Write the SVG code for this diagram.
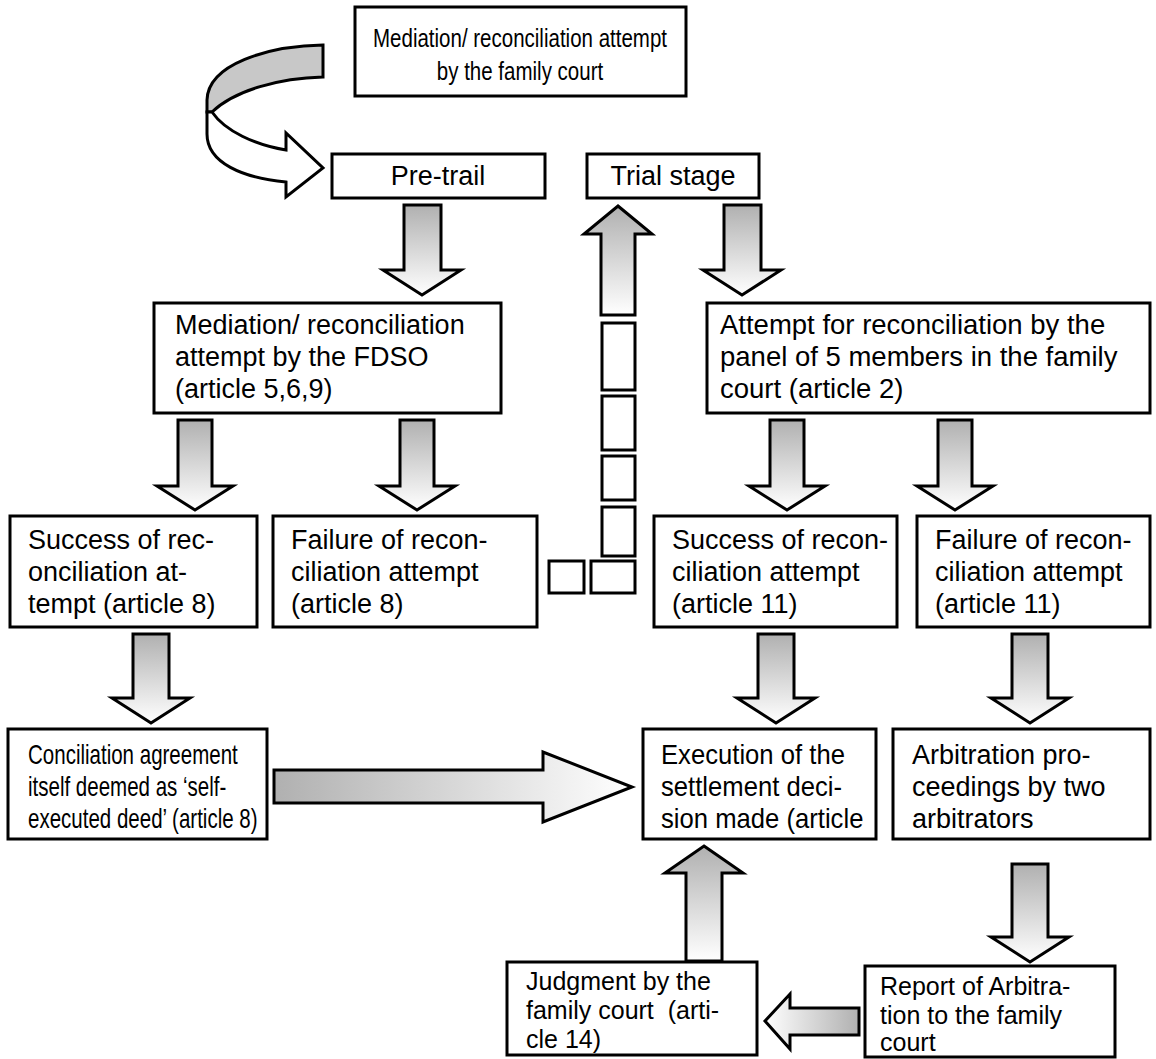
<svg xmlns="http://www.w3.org/2000/svg" width="1156" height="1059" viewBox="0 0 1156 1059">
<style>
.box{fill:#fff;stroke:#000;stroke-width:3}
.arr{stroke:#000;stroke-width:3;stroke-linejoin:miter}
.t{font-family:"Liberation Sans",Arial,sans-serif;font-size:27px;fill:#000}
.c{text-anchor:middle}
</style>
<defs>
<linearGradient id="gv" x1="0" y1="0" x2="0" y2="1"><stop offset="0" stop-color="#b0b0b0"/><stop offset="1" stop-color="#ffffff"/></linearGradient>
<linearGradient id="gr" x1="0" y1="0" x2="1" y2="0"><stop offset="0" stop-color="#b0b0b0"/><stop offset="1" stop-color="#ffffff"/></linearGradient>
<linearGradient id="gl" x1="0" y1="0" x2="1" y2="0"><stop offset="0" stop-color="#ffffff"/><stop offset="1" stop-color="#b0b0b0"/></linearGradient>
</defs>
<rect width="1156" height="1059" fill="#fff"/>

<g id="connectors">
<path class="arr" fill="#c8c8c8" d="M323,45 C268,46 208,64 207,100 L207,112 L212,112 C235,90 280,78 323,77 Z"/>
<path class="arr" fill="#fff" d="M212,112 C225,131 255,145 286,150 L286,133 L323,168 L286,197 L286,182 C243,178 207,163 207,134 L207,112 Z"/>
<polygon class="arr" fill="url(#gv)" points="404,205 441,205 441,270 461,270 422,295 383,270 404,270"/>
<polygon class="arr" fill="url(#gv)" points="724,205 761,205 761,270 781,270 742,295 703,270 724,270"/>
<polygon class="arr" fill="url(#gv)" points="618,206 652,234 635,234 635,315 601,315 601,234 584,234"/>
<rect class="box" x="602" y="323" width="33" height="67"/>
<rect class="box" x="602" y="396" width="33" height="54"/>
<rect class="box" x="602" y="456" width="33" height="44"/>
<rect class="box" x="602" y="507" width="33" height="49"/>
<rect class="box" x="549" y="561" width="35" height="32"/>
<rect class="box" x="591" y="561" width="44" height="32"/>
<polygon class="arr" fill="url(#gv)" points="178,420 212,420 212,486 233,486 195,510 157,486 178,486"/>
<polygon class="arr" fill="url(#gv)" points="400,420 434,420 434,486 455,486 417,510 379,486 400,486"/>
<polygon class="arr" fill="url(#gv)" points="770,420 804,420 804,486 825,486 787,510 749,486 770,486"/>
<polygon class="arr" fill="url(#gv)" points="938,420 972,420 972,486 993,486 955,510 917,486 938,486"/>
<polygon class="arr" fill="url(#gv)" points="133,634 169,634 169,698 190,698 151,723 112,698 133,698"/>
<polygon class="arr" fill="url(#gv)" points="758,634 794,634 794,698 815,698 776,723 737,698 758,698"/>
<polygon class="arr" fill="url(#gv)" points="1012,634 1048,634 1048,698 1069,698 1030,723 991,698 1012,698"/>
<polygon class="arr" fill="url(#gr)" points="274,770 543,770 543,752 632,787 543,822 543,803 274,803"/>
<polygon class="arr" fill="url(#gv)" points="704,846 743,873 722,873 722,961 686,961 686,873 665,873"/>
<polygon class="arr" fill="url(#gv)" points="1012,864 1048,864 1048,937 1069,937 1030,962 991,937 1012,937"/>
<polygon class="arr" fill="url(#gl)" points="765,1021 790,994 790,1008 859,1008 859,1035 790,1035 790,1049"/>
</g>

<g id="n-top"><rect class="box" x="355" y="7" width="331" height="89"/>
<text class="t c" style="font-size:25px" transform="translate(520,47) scale(0.82,1)"><tspan x="0" y="0">Mediation/ reconciliation attempt</tspan><tspan x="0" y="33">by the family court</tspan></text></g>

<g id="n-pretrail"><rect class="box" x="332" y="154" width="213" height="44"/>
<text class="t c" x="438" y="185">Pre-trail</text></g>

<g id="n-trial"><rect class="box" x="587" y="154" width="172" height="44"/>
<text class="t c" x="673" y="185">Trial stage</text></g>

<g id="n-fdso"><rect class="box" x="154" y="303" width="347" height="110"/>
<text class="t" x="175" y="334">Mediation/ reconciliation<tspan x="175" y="366">attempt by the FDSO</tspan><tspan x="175" y="398">(article 5,6,9)</tspan></text></g>

<g id="n-attempt"><rect class="box" x="707" y="303" width="443" height="110"/>
<text class="t" style="font-size:27.5px" x="720" y="334">Attempt for reconciliation by the<tspan x="720" y="366">panel of 5 members in the family</tspan><tspan x="720" y="398">court (article 2)</tspan></text></g>

<g id="n-successL"><rect class="box" x="10" y="516" width="247" height="111"/>
<text class="t" x="28" y="549">Success of rec-<tspan x="28" y="581">onciliation at-</tspan><tspan x="28" y="613">tempt (article 8)</tspan></text></g>

<g id="n-failureL"><rect class="box" x="273" y="516" width="264" height="111"/>
<text class="t" x="291" y="549">Failure of recon-<tspan x="291" y="581">ciliation attempt</tspan><tspan x="291" y="613">(article 8)</tspan></text></g>

<g id="n-successR"><rect class="box" x="654" y="516" width="243" height="111"/>
<text class="t" x="672" y="549">Success of recon-<tspan x="672" y="581">ciliation attempt</tspan><tspan x="672" y="613">(article 11)</tspan></text></g>

<g id="n-failureR"><rect class="box" x="917" y="516" width="233" height="111"/>
<text class="t" x="935" y="549">Failure of recon-<tspan x="935" y="581">ciliation attempt</tspan><tspan x="935" y="613">(article 11)</tspan></text></g>

<g id="n-conciliation"><rect class="box" x="8" y="729" width="259" height="110"/>
<text class="t" transform="translate(28,764) scale(0.76,1)"><tspan x="0" y="0">Conciliation agreement</tspan><tspan x="0" y="32">itself deemed as ‘self-</tspan><tspan x="0" y="64">executed deed’ (article 8)</tspan></text></g>

<g id="n-execution"><rect class="box" x="643" y="729" width="233" height="110"/>
<text class="t" transform="translate(661,764) scale(0.95,1)"><tspan x="0" y="0">Execution of the</tspan><tspan x="0" y="32">settlement deci-</tspan><tspan x="0" y="64">sion made (article</tspan></text></g>

<g id="n-arbitration"><rect class="box" x="893" y="729" width="257" height="110"/>
<text class="t" x="912" y="764">Arbitration pro-<tspan x="912" y="796">ceedings by two</tspan><tspan x="912" y="828">arbitrators</tspan></text></g>

<g id="n-judgment"><rect class="box" x="507" y="962" width="250" height="93"/>
<text class="t" style="font-size:25px" xml:space="preserve" x="526" y="990">Judgment by the<tspan x="526" y="1019">family court  (arti-</tspan><tspan x="526" y="1048">cle 14)</tspan></text></g>

<g id="n-report"><rect class="box" x="865" y="966" width="250" height="91"/>
<text class="t" style="font-size:25px" x="880" y="995">Report of Arbitra-<tspan x="880" y="1024">tion to the family</tspan><tspan x="880" y="1051">court</tspan></text></g>
</svg>
